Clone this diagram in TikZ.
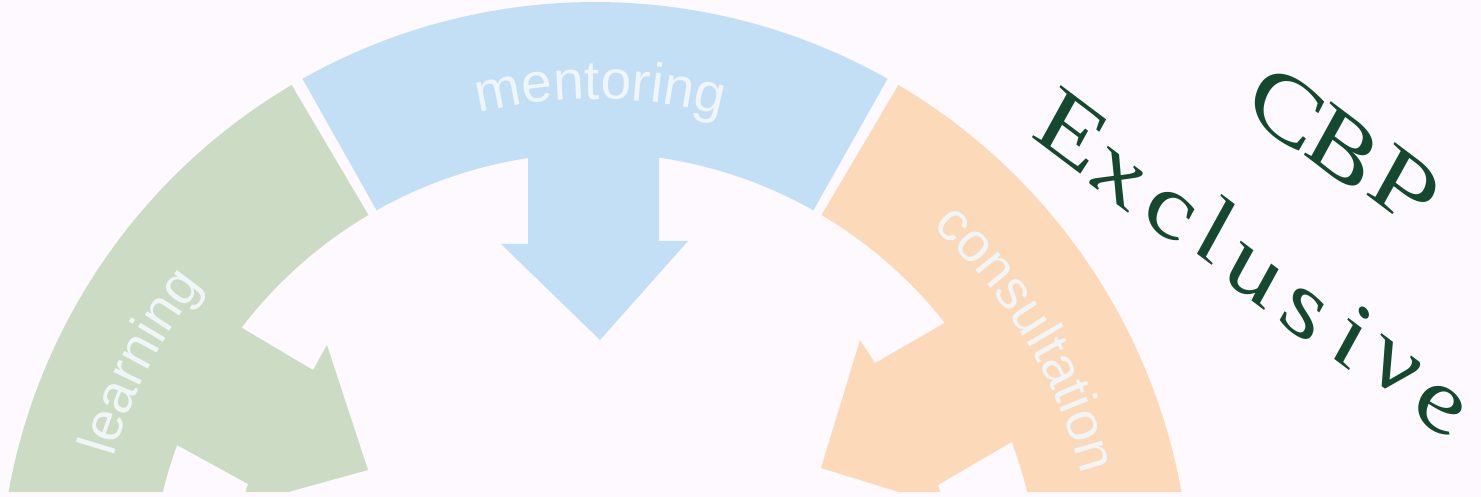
\documentclass[tikz,border=0pt]{standalone}
\usepackage{fontspec}
\setmainfont{Liberation Serif}
\setsansfont{Liberation Sans}
\usetikzlibrary{decorations.text,calc}
\definecolor{bgc}{HTML}{FDF9FE}
\definecolor{bluec}{HTML}{C3DFF5}
\definecolor{greenc}{HTML}{CCDCC4}
\definecolor{orangec}{HTML}{FCD9B9}
\definecolor{inkc}{HTML}{15492F}
\definecolor{labelc}{HTML}{F0F5F8}
\tikzset{
  lettering/.style={transform shape,inner sep=0pt,text=inkc,font=\itshape\fontsize{100}{108}\selectfont},
  labeltext/.style={decorate,decoration={text along path,text align=center,text color=labelc,text={|\sffamily\fontsize{55}{60}\selectfont|#1}}},
}
\newcommand{\glyphat}[4]{%
  \begin{scope}[shift={(#2,-#3)},rotate=-37,xslant=-0.37,xscale=1.16,yscale=0.9]
    \node[lettering,anchor=center] (#1) at (0,0) {#4};
  \end{scope}}
\newcommand{\ringseg}[3]{%
  \fill[#1] (595,-598) ++(#2:596) arc[start angle=#2,end angle=#3,radius=596]
    -- ($(595,-598)+(#3:445)$) arc[start angle=#3,end angle=#2,radius=445] -- cycle;}
\begin{document}
\begin{tikzpicture}[x=1pt,y=1pt]
\useasboundingbox (0,0) rectangle (1481,-497);
\fill[bgc] (0,0) rectangle (1481,-497);
\begin{scope}
\clip (0,0) rectangle (1481,-491);
\ringseg{bluec}{119.4}{60.6}
\ringseg{greenc}{120.6}{175}
\ringseg{orangec}{59.4}{5}
\fill[bluec] (528,-150) -- (528,-244) -- (501,-244) -- (600,-340) -- (688,-241) -- (659,-241) -- (659,-150) -- cycle;
\fill[greenc] (232,-322) -- (313,-370) -- (327,-345) -- (368,-470) -- (270,-497) -- (244,-497) -- (248,-484) -- (177,-445) -- (150,-430) -- cycle;
\fill[orangec] (955,-317) -- (875,-363) -- (860,-340) -- (821,-468) -- (915,-497) -- (942,-497) -- (938,-485) -- (1015,-440) -- (1040,-430) -- cycle;
\end{scope}
\path[labeltext=mentoring] (595,-598) ++(124.4:499) arc[start angle=124.4,end angle=54.4,radius=499];
\path[labeltext=learning] (595,-598) ++(182.6:502) arc[start angle=182.6,end angle=122.6,radius=502];
\path[labeltext=consultation] (595,-598) ++(66:502) arc[start angle=66,end angle=-4,radius=502];
\glyphat{gC}{1284}{107}{C}
\glyphat{gB}{1341}{146}{B}
\glyphat{gP}{1405}{187}{P}
\glyphat{gE}{1071}{130}{E}
\glyphat{gx}{1117}{179}{x}
\glyphat{gc}{1169}{215}{c}
\glyphat{gl}{1215}{228}{l}
\glyphat{gu}{1253}{276}{u}
\glyphat{gs}{1303}{314}{s}
\glyphat{gi}{1351}{335}{i}
\glyphat{gv}{1394}{369}{v}
\glyphat{ge}{1439}{409}{e}
\end{tikzpicture}
\end{document}
